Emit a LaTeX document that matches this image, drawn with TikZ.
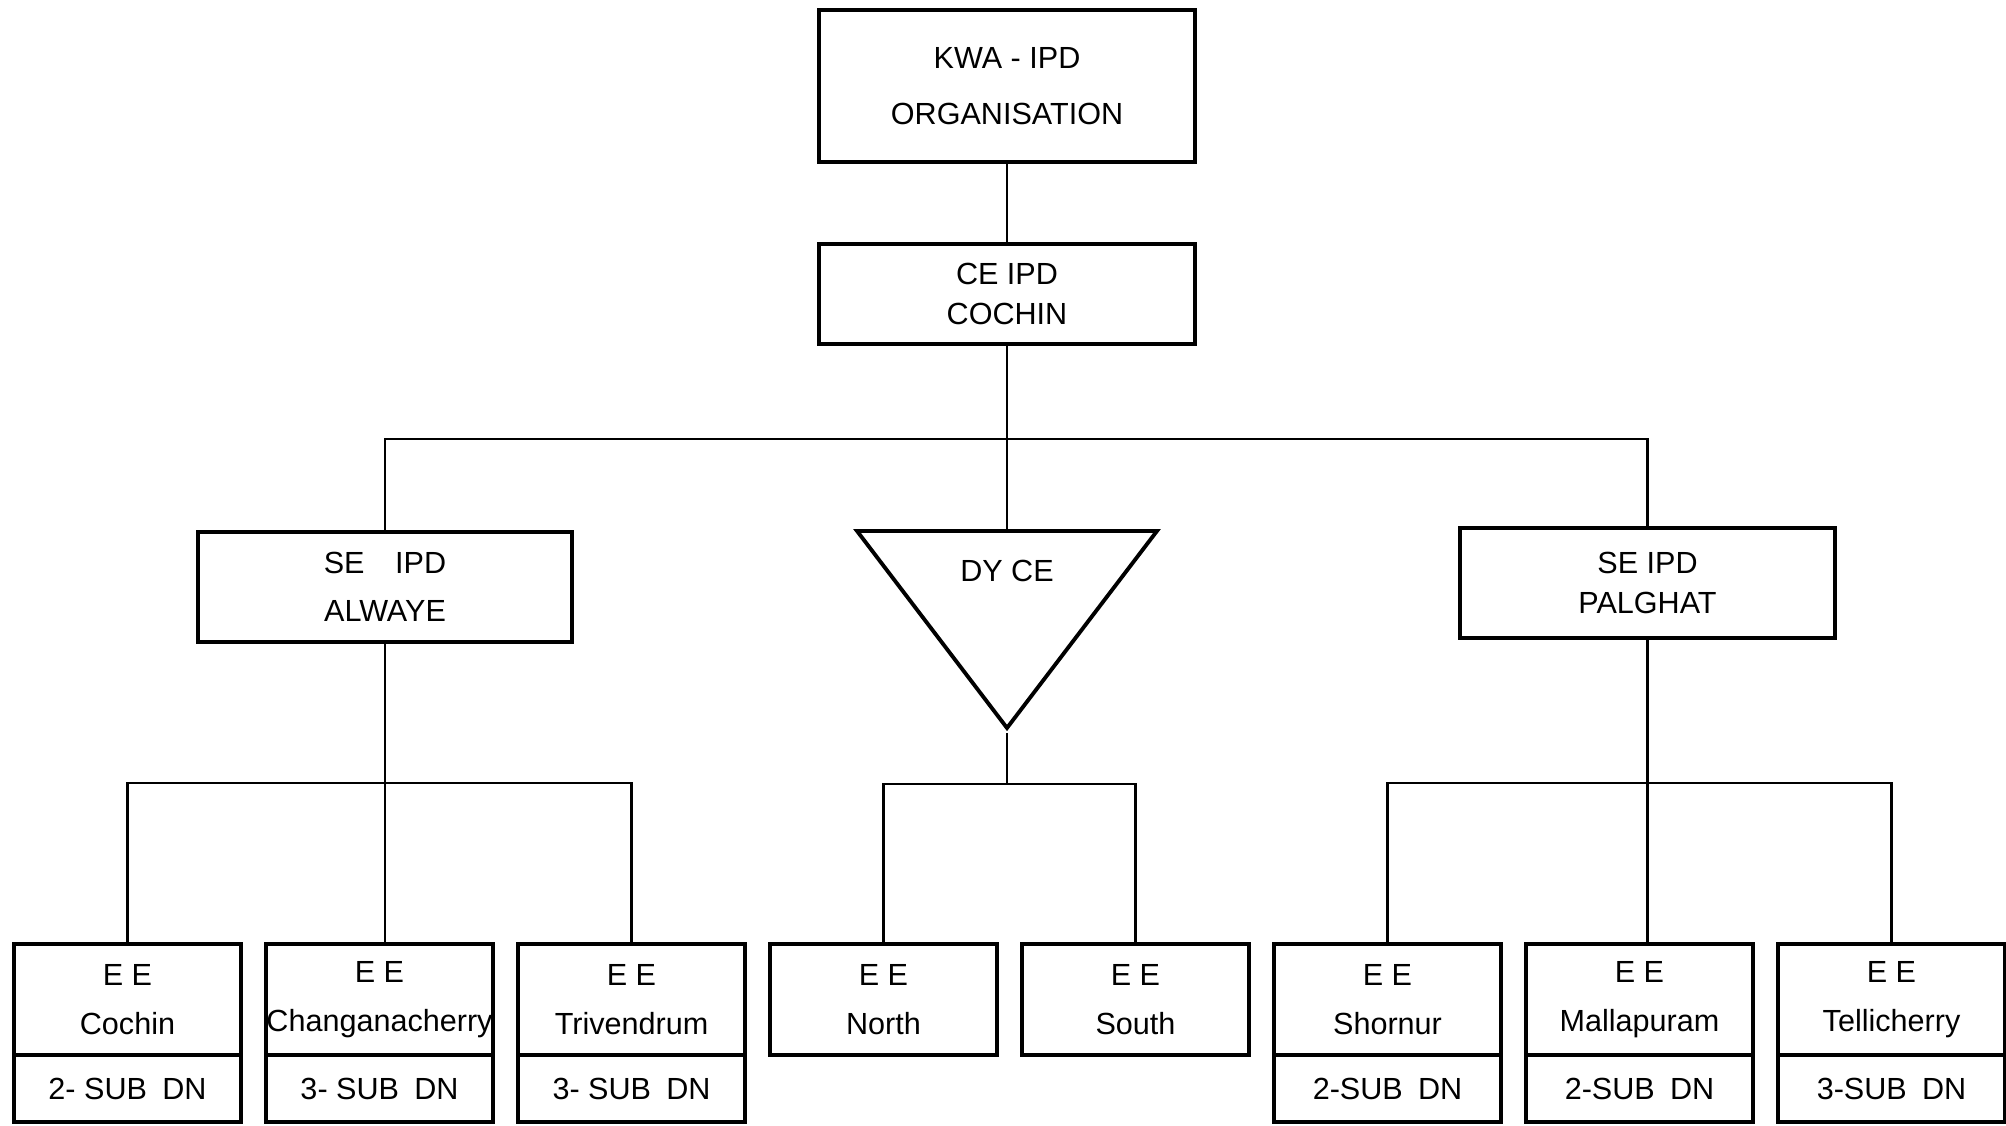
\documentclass[tikz,border=0pt]{standalone}
\usepackage{fontspec}
\setmainfont{Liberation Sans}
\usetikzlibrary{shapes.geometric, positioning}

\begin{document}
\begin{tikzpicture}[
    node distance=0.25cm,
    every node/.style={font=\fontsize{8.7}{14}\selectfont},
    box/.style={rectangle, draw, line width=1.1pt, align=center, outer sep=0pt, inner sep=0pt},
    head/.style={box, minimum width=3.76cm},
    ee/.style={box, minimum width=2.27cm, minimum height=1.11cm},
    sub/.style={box, minimum width=2.27cm, minimum height=0.67cm},
    tri/.style={isosceles triangle, isosceles triangle stretches, shape border rotate=270, draw, line width=1.1pt, inner sep=0pt, minimum width=3cm, minimum height=1.97cm},
    link/.style={line width=0.7pt}
  ]
  \useasboundingbox (0,0) rectangle (20.06,-11.26);

  % top of the tree
  \node[head, minimum height=1.52cm, font=\fontsize{8.7}{16}\selectfont] (kwa) at (10.07,-0.86) {KWA - IPD\\ORGANISATION};
  \node[head, minimum height=1.00cm, below=0.82cm of kwa, font=\fontsize{8.7}{11.5}\selectfont] (ce) {CE IPD\\COCHIN};

  % second level
  \node[box, minimum width=3.74cm, minimum height=1.10cm, font=\fontsize{8.7}{13.6}\selectfont] (alwaye) at (3.85,-5.87) {SE\quad IPD\\ALWAYE};
  \node[box, minimum width=3.75cm, minimum height=1.10cm, font=\fontsize{8.7}{11.5}\selectfont] (palghat) at (16.475,-5.83) {SE IPD\\PALGHAT};
  \node[tri, anchor=apex] (dy) at (10.07,-7.33) {};
  \node (dytext) at ([yshift=-4.2mm]dy.lower side) {DY CE};

  % executive engineers
  \node[ee] (cochin) at (1.275,-9.995) {E E\\Cochin};
  \node[sub, below=0pt of cochin] (cochinsub) {2- SUB\enspace DN};
  \node[ee, right=of cochin] (changa) {E E\\Changanacherry};
  \node[sub, below=0pt of changa] (changasub) {3- SUB\enspace DN};
  \node[ee, right=of changa] (trivan) {E E\\Trivendrum};
  \node[sub, below=0pt of trivan] (trivansub) {3- SUB\enspace DN};
  \node[ee, right=of trivan] (north) {E E\\North};
  \node[ee, right=of north] (south) {E E\\South};
  \node[ee, right=of south] (shornur) {E E\\Shornur};
  \node[sub, below=0pt of shornur] (shornursub) {2-SUB\enspace DN};
  \node[ee, right=of shornur] (malla) {E E\\Mallapuram};
  \node[sub, below=0pt of malla] (mallasub) {2-SUB\enspace DN};
  \node[ee, right=of malla] (telli) {E E\\Tellicherry};
  \node[sub, below=0pt of telli] (tellisub) {3-SUB\enspace DN};

  % connectors
  \draw[link] (kwa) -- (ce);
  \draw[link] (ce) -- (dy);
  \path (ce.south) ++(0,-0.95) coordinate (hub);
  \draw[link] (alwaye) |- (hub) -| (palghat);

  \draw[link] (alwaye) -- (alwaye |- changa.north);
  \draw[link] (cochin.north) -- ++(0,1.61) -| (trivan.north);

  \draw[link] (dy.apex) -- ++(0,-0.51) coordinate (dybus);
  \draw[link] (north.north) |- (dybus) -| (south.north);

  \draw[link] (palghat) -- (palghat |- malla.north);
  \draw[link] (shornur.north) -- ++(0,1.61) -| (telli.north);
\end{tikzpicture}
\end{document}
